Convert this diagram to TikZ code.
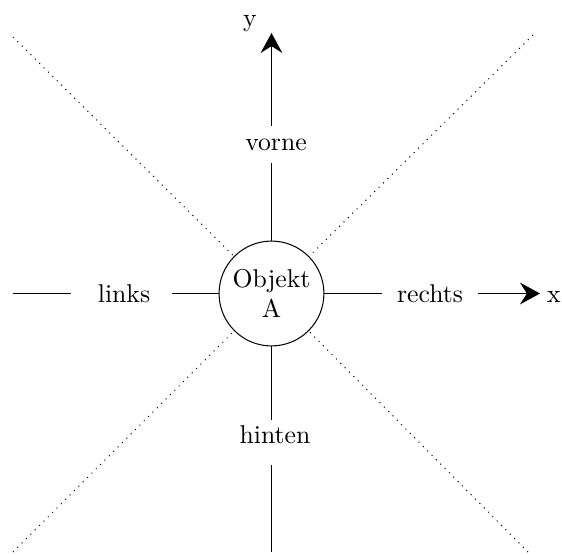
\documentclass[tikz,border=0pt]{standalone}
\usetikzlibrary{arrows.meta}
\begin{document}
\begin{tikzpicture}[x=0.389pt,y=-0.389pt,
  lbl/.style={anchor=base,inner sep=0pt},
  axisarrow/.style={-{Stealth[length=7.8pt,width=8.5pt,inset=2.7pt]}},
  diag/.style={dotted}]
\useasboundingbox (0,0) rectangle (562,554);
\node[draw,circle,minimum size=40.8pt,inner sep=0pt,align=center] (A) at (271.5,293.5) {Objekt\\A};
% labels
\node[lbl] (vorne) at (276,150) {vorne};
\node[lbl] (hinten) at (275,443) {hinten};
\node[lbl] (links) at (124,302) {links};
\node[lbl] (rechts) at (430,302) {rechts};
\node[lbl] (ylab) at (250,26) {y};
\node[lbl] (xlab) at (554,302) {x};
% segment ends
\coordinate (u1) at (271.5,163);
\coordinate (u2) at (271.5,126);
\coordinate (u3) at (271.5,33);
\coordinate (d1) at (271.5,420);
\coordinate (d2) at (271.5,465);
\coordinate (d3) at (271.5,552);
\coordinate (l1) at (172,293.5);
\coordinate (l2) at (71,293.5);
\coordinate (l3) at (13,293.5);
\coordinate (r1) at (382,293.5);
\coordinate (r2) at (478,293.5);
\coordinate (r3) at (540,293.5);
\coordinate (tl) at (13,37);
\coordinate (tr) at (533,35);
\coordinate (bl) at (13,552);
\coordinate (br) at (528,552);
% lines
\draw (A) -- (u1);
\draw[axisarrow] (u2) -- (u3);
\draw (A) -- (d1);
\draw (d2) -- (d3);
\draw (A) -- (l1);
\draw (l2) -- (l3);
\draw (A) -- (r1);
\draw[axisarrow] (r2) -- (r3);
% diagonals
\draw[diag] (tl) -- (A);
\draw[diag] (tr) -- (A);
\draw[diag] (bl) -- (A);
\draw[diag] (br) -- (A);
\end{tikzpicture}
\end{document}
